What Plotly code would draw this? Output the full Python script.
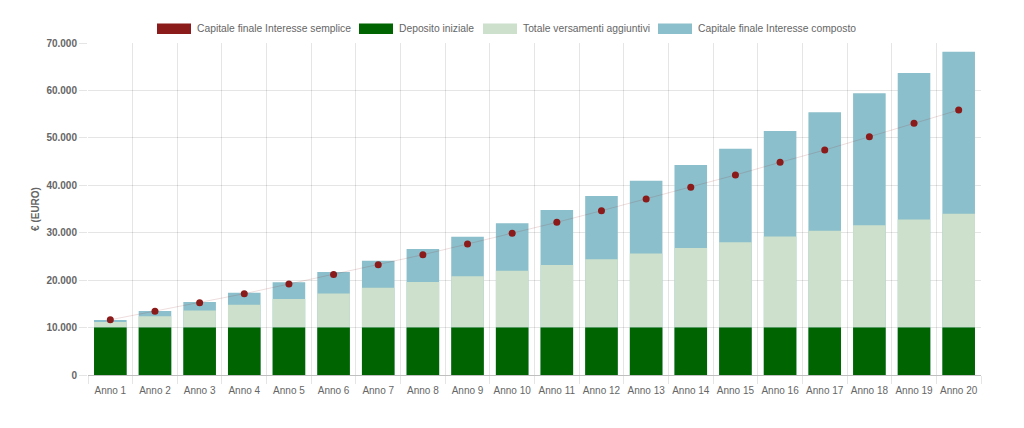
import plotly.graph_objects as go

years = [f"Anno {i}" for i in range(1, 21)]
deposito = [10000] * 20
versamenti = [1200, 2400, 3600, 4800, 6000, 7200, 8400, 9600, 10800, 12000,
              13200, 14400, 15600, 16800, 18000, 19200, 20400, 21600, 22800, 24000]
composto = [11620, 13490, 15390, 17350, 19540, 21720, 24100, 26560, 29160, 31980,
            34790, 37740, 40970, 44280, 47710, 51440, 55390, 59390, 63670, 68160]
semplice = [11650, 13430, 15240, 17140, 19190, 21200, 23260, 25360, 27620, 29870,
            32190, 34640, 37110, 39570, 42170, 44840, 47440, 50240, 53070, 55870]

C_RED = "#8b1a1a"
C_GREEN = "#006400"
C_LGREEN = "#cce0cc"
C_BLUE = "#8bbfcb"
TXT = "#666666"
FONT = "Liberation Sans, Arial, sans-serif"

fig = go.Figure()
fig.add_trace(go.Bar(x=years, y=composto, name="Capitale finale Interesse composto",
                     marker_color=C_BLUE, marker_line_width=0, width=0.73))
fig.add_trace(go.Bar(x=years, y=versamenti, base=deposito, name="Totale versamenti aggiuntivi",
                     marker_color=C_LGREEN, marker_line_width=0, width=0.73))
fig.add_trace(go.Bar(x=years, y=deposito, name="Deposito iniziale",
                     marker_color=C_GREEN, marker_line_width=0, width=0.73))
fig.add_trace(go.Scatter(x=years, y=semplice, name="Capitale finale Interesse semplice",
                         mode="lines+markers",
                         line=dict(color="rgba(139,26,26,0.15)", width=1),
                         marker=dict(color=C_RED, size=7)))

# custom legend (Chart.js style wide boxes)
L, R, T, B = 88, 981, 43, 375
def px(x):
    return (x - L) / (R - L)
def py(y):
    return (B - y) / (B - T)

legend_items = [
    ("Capitale finale Interesse semplice", C_RED, 157, 191, 195),
    ("Deposito iniziale", C_GREEN, 359, 393, 397),
    ("Totale versamenti aggiuntivi", C_LGREEN, 483, 517, 521),
    ("Capitale finale Interesse composto", C_BLUE, 658, 692, 696),
]
shapes = []
annotations = []
for label, col, x0, x1, tx in legend_items:
    shapes.append(dict(type="rect", xref="paper", yref="paper",
                       x0=px(x0), x1=px(x1), y0=py(34), y1=py(23.5),
                       fillcolor=col, line=dict(width=0)))
    annotations.append(dict(text=label, xref="paper", yref="paper",
                            x=px(tx), y=py(28.8), xanchor="left", yanchor="middle",
                            showarrow=False, font=dict(family=FONT, size=10.3, color=TXT)))

fig.update_layout(
    width=1024, height=428,
    margin=dict(l=L, r=1024 - R, t=T, b=428 - B),
    paper_bgcolor="white", plot_bgcolor="white",
    barmode="overlay",
    showlegend=False,
    separators=",.",
    font=dict(family=FONT, size=10, color=TXT),
    shapes=shapes,
    annotations=annotations,
)
fig.update_xaxes(
    type="category", tickson="boundaries", ticks="outside", ticklen=8,
    tickcolor="rgba(0,0,0,0.1)", showgrid=True, gridcolor="rgba(0,0,0,0.1)",
    showline=False, tickangle=0, ticklabelstandoff=8,
    tickfont=dict(family=FONT, size=10, color=TXT),
    range=[-0.5, 19.5],
)
fig.update_yaxes(
    range=[0, 70000], dtick=10000, tickformat=",.0f",
    ticks="outside", ticklen=8, tickcolor="rgba(0,0,0,0.1)",
    showgrid=True, gridcolor="rgba(0,0,0,0.1)",
    zeroline=True, zerolinecolor="rgba(0,0,0,0.25)", zerolinewidth=1,
    tickfont=dict(family=FONT, size=10, color=TXT, weight="bold"),
    title=dict(text="€ (EURO)", standoff=4,
               font=dict(family=FONT, size=10, color=TXT, weight="bold")),
)

fig.write_html("out.html")
